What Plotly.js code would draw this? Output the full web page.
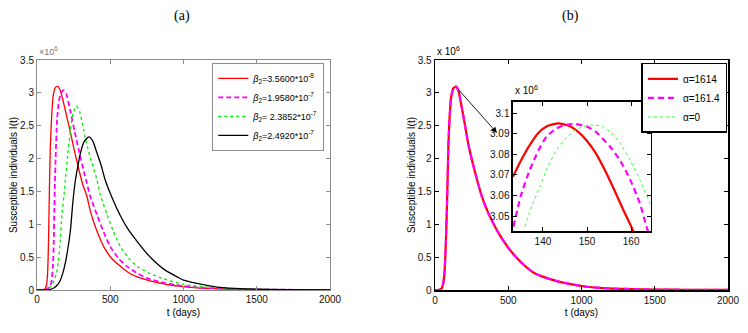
<!DOCTYPE html>
<html>
<head>
<meta charset="utf-8">
<script src="https://cdn.plot.ly/plotly-3.0.1.min.js"></script>
<style>
html, body { margin: 0; padding: 0; background: #fff; }
#plot { width: 748px; height: 333px; }
</style>
</head>
<body>
<div id="plot"></div>
<script>
// panel (a): I(t) for four beta2 values, values in units of 1e6
var tRed = [0, 40, 55, 65, 72, 78, 82, 86, 91, 100, 110, 125, 143, 160, 180, 205, 228, 255, 284, 310, 341, 364, 400, 455, 510, 569, 620, 683, 771, 850, 910, 1000, 1092, 1200, 1350, 1500, 1700, 2000];
var vRed = [0, 0.003, 0.02, 0.08, 0.25, 0.7, 1.2, 1.7, 2.18, 2.65, 2.95, 3.08, 3.10, 3.03, 2.86, 2.62, 2.4, 2.12, 1.85, 1.62, 1.42, 1.2, 0.95, 0.66, 0.48, 0.36, 0.27, 0.2, 0.14, 0.1, 0.076, 0.052, 0.032, 0.02, 0.011, 0.006, 0.003, 0.001];

var tMag = [0, 60, 90, 100, 108, 114, 118, 122, 127, 137, 150, 165, 182, 200, 228, 256, 284, 320, 341, 364, 410, 455, 500, 560, 614, 680, 751, 850, 950, 1092, 1200, 1350, 1500, 1700, 2000];
var vMag = [0, 0.005, 0.06, 0.15, 0.35, 0.7, 1.2, 1.6, 2.0, 2.6, 2.88, 3.0, 3.04, 2.98, 2.72, 2.42, 2.14, 1.8, 1.62, 1.42, 1.14, 0.88, 0.66, 0.47, 0.36, 0.26, 0.18, 0.12, 0.075, 0.04, 0.026, 0.015, 0.008, 0.004, 0.001];

var tGrn = [0, 60, 91, 115, 132, 145, 155, 171, 187, 193, 205, 228, 245, 268, 290, 319, 345, 375, 410, 432, 478, 520, 569, 620, 683, 771, 865, 1000, 1092, 1200, 1350, 1500, 1700, 2000];
var vGrn = [0, 0.01, 0.05, 0.14, 0.25, 0.42, 0.66, 1.17, 1.5, 1.67, 1.95, 2.43, 2.68, 2.8, 2.72, 2.43, 2.17, 1.93, 1.67, 1.45, 1.15, 0.9, 0.66, 0.5, 0.36, 0.25, 0.17, 0.085, 0.06, 0.038, 0.02, 0.011, 0.005, 0.001];

var tBlk = [0, 80, 114, 140, 159, 175, 193, 210, 228, 246, 262, 280, 296, 320, 353, 380, 410, 440, 466, 519, 569, 620, 683, 740, 796, 870, 956, 1000, 1092, 1227, 1350, 1500, 1700, 2000];
var vBlk = [0, 0.005, 0.03, 0.08, 0.15, 0.25, 0.41, 0.62, 0.91, 1.37, 1.67, 1.9, 2.08, 2.25, 2.33, 2.27, 2.08, 1.88, 1.67, 1.37, 1.13, 0.93, 0.74, 0.58, 0.45, 0.31, 0.2, 0.15, 0.1, 0.045, 0.025, 0.012, 0.005, 0.001];

var namesA = ['<i>β</i><sub>2</sub>=3.5600*10<sup>-8</sup>', '<i>β</i><sub>2</sub>=1.9580*10<sup>-7</sup>',
              '<i>β</i><sub>2</sub>= 2.3852*10<sup>-7</sup>', '<i>β</i><sub>2</sub>=2.4920*10<sup>-7</sup>'];

// panel (b): the three alpha curves overlap on the full scale
var tAlpha = [0, 30, 46, 56, 64, 70, 75, 80, 86, 91, 100, 110, 125, 144, 160, 182, 205, 227, 255, 284, 320, 364, 430, 501, 592, 683, 808, 900, 1036, 1150, 1300, 1500, 1700, 2000];
var vAlpha = [0, 0.002, 0.03, 0.1, 0.25, 0.5, 0.8, 1.17, 1.7, 2.18, 2.65, 2.93, 3.07, 3.095, 3.03, 2.78, 2.5, 2.22, 1.95, 1.7, 1.42, 1.17, 0.88, 0.64, 0.41, 0.25, 0.15, 0.1, 0.05, 0.03, 0.016, 0.008, 0.004, 0.001];

// inset zoom around the peak
var tInR = [133.2, 135, 137, 139, 141, 143.5, 146, 148, 150, 152, 154, 156, 158, 160.2, 162];
var vInR = [3.0691, 3.077, 3.0845, 3.0905, 3.0938, 3.0951, 3.0938, 3.091, 3.0865, 3.0805, 3.0725, 3.0635, 3.054, 3.044, 3.035];
var tInM = [133.3, 135, 137, 139, 140.8, 143, 145, 147.3, 150, 152, 155.2, 157.5, 159.8, 162, 163.6, 164.5];
var vInM = [3.0448, 3.06, 3.0724, 3.082, 3.0886, 3.0925, 3.0943, 3.0948, 3.0935, 3.091, 3.0838, 3.077, 3.0676, 3.056, 3.044, 3.038];
var tInG = [135.9, 137.5, 139.3, 141, 143.1, 145, 147, 149, 151.4, 153.5, 155.5, 157.5, 159.8, 162, 164.3, 164.5];
var vInG = [3.0448, 3.055, 3.0643, 3.0735, 3.0821, 3.0875, 3.0912, 3.0935, 3.0943, 3.0935, 3.0905, 3.0854, 3.077, 3.0676, 3.056, 3.055];

var namesB = ['α=1614', 'α=161.4', 'α=0'];

var yTicks = [0, 0.5, 1, 1.5, 2, 2.5, 3, 3.5];
var yTickText = ['0', '0.5', '1', '1.5', '2', '2.5', '3', '3.5'];
var xTicks = [0, 500, 1000, 1500, 2000];
var inYTicks = [3.05, 3.06, 3.07, 3.08, 3.09, 3.1];
var inYText = ['3.05', '3.06', '3.07', '3.08', '3.09', '3.1'];
var inXTicks = [140, 150, 160];

function line(x, y, name, color, width, dash, xa, ya, leg, show) {
    return {x: x, y: y, name: name, type: 'scatter', mode: 'lines',
            line: {color: color, width: width, dash: dash, shape: 'spline', smoothing: 0.6},
            xaxis: xa, yaxis: ya, legend: leg, showlegend: show};
}

var data = [
    line(tRed, vRed, namesA[0], '#ff0000', 1.3, 'solid', 'x', 'y', 'legend', true),
    line(tMag, vMag, namesA[1], '#ff00ff', 1.8, '5px,3px', 'x', 'y', 'legend', true),
    line(tGrn, vGrn, namesA[2], '#00ee00', 1.3, 'dot', 'x', 'y', 'legend', true),
    line(tBlk, vBlk, namesA[3], '#000000', 1.3, 'solid', 'x', 'y', 'legend', true),

    line(tAlpha, vAlpha, namesB[2], '#33ff33', 1, 'dot', 'x2', 'y2', 'legend2', false),
    line(tAlpha, vAlpha, namesB[0], '#ff0000', 2.2, 'solid', 'x2', 'y2', 'legend2', true),
    line(tAlpha, vAlpha, namesB[1], '#ff00ff', 2.2, '6px,4px', 'x2', 'y2', 'legend2', true),
    line(tInR, vInR, namesB[0], '#ff0000', 2.2, 'solid', 'x3', 'y3', 'legend2', false),
    line(tInM, vInM, namesB[1], '#ff00ff', 2.2, '6px,4px', 'x3', 'y3', 'legend2', false),
    line(tInG, vInG, namesB[2], '#33ff33', 1, 'dot', 'x3', 'y3', 'legend2', true)
];

var font = 'Liberation Sans, Arial, sans-serif';

function axis(dom, range, color, lw, extra) {
    var a = {domain: dom, range: range, showgrid: false, zeroline: false,
             showline: true, linecolor: color, linewidth: lw, mirror: 'ticks',
             ticks: 'inside', ticklen: 4, tickcolor: color, tickwidth: 1,
             tickfont: {family: font, size: 10, color: '#111'}, automargin: false};
    for (var k in extra) a[k] = extra[k];
    return a;
}

var layout = {
    width: 748, height: 333,
    margin: {l: 0, r: 0, t: 0, b: 0},
    paper_bgcolor: '#fff', plot_bgcolor: 'rgba(0,0,0,0)',
    font: {family: font, size: 10, color: '#000'},
    xaxis: axis([0.0495, 0.4412], [0, 2000], '#8c8c8c', 1,
        {anchor: 'y', tickvals: xTicks, title: {text: 't (days)', standoff: 4, font: {size: 10}}}),
    yaxis: axis([0.1291, 0.8198], [0, 3.5], '#8c8c8c', 1,
        {anchor: 'x', tickvals: yTicks, ticktext: yTickText, title: {text: 'Susceptible individuals I(t)', standoff: 0, font: {size: 10}}}),
    xaxis2: axis([0.5816, 0.9733], [0, 2000], '#000', 1.5,
        {anchor: 'y2', tickvals: xTicks, title: {text: 't (days)', standoff: 4, font: {size: 10}}}),
    yaxis2: axis([0.1291, 0.8198], [0, 3.5], '#000', 1.5,
        {anchor: 'x2', tickvals: yTicks, ticktext: yTickText, title: {text: 'Susceptible individuals I(t)', standoff: 0, font: {size: 10}}}),
    xaxis3: axis([0.6858, 0.8703], [133.2, 164.5], '#000', 1.5,
        {anchor: 'y3', tickvals: inXTicks}),
    yaxis3: axis([0.3063, 0.6937], [3.0427, 3.1055], '#000', 1.5,
        {anchor: 'x3', tickvals: inYTicks, ticktext: inYText}),
    legend: {x: 0.4335, y: 0.811, xanchor: 'right', yanchor: 'top',
             bgcolor: '#fff', bordercolor: '#8c8c8c', borderwidth: 1,
             font: {family: 'Liberation Sans Narrow, Arial Narrow, ' + font, size: 9}, tracegroupgap: 0},
    legend2: {x: 0.9725, y: 0.811, xanchor: 'right', yanchor: 'top',
              bgcolor: '#fff', bordercolor: '#000', borderwidth: 1.5,
              font: {family: font, size: 10}, tracegroupgap: 0, traceorder: 'normal'},
    annotations: [
        {text: '(a)', xref: 'paper', yref: 'paper', x: 0.23, y: 0.952, yanchor: 'middle', showarrow: false,
         font: {family: 'Liberation Serif, Times New Roman, serif', size: 14}},
        {text: '(b)', xref: 'paper', yref: 'paper', x: 0.777, y: 0.952, yanchor: 'middle', showarrow: false,
         font: {family: 'Liberation Serif, Times New Roman, serif', size: 14}},
        {text: '×10<sup>6</sup>', xref: 'paper', yref: 'paper', x: 0.0495, y: 0.823, xanchor: 'left', yanchor: 'bottom',
         showarrow: false, font: {size: 9, color: '#777'}},
        {text: 'x 10<sup>6</sup>', xref: 'paper', yref: 'paper', x: 0.5816, y: 0.823, xanchor: 'left', yanchor: 'bottom',
         showarrow: false, font: {size: 10, color: '#000'}},
        {text: 'x 10<sup>6</sup>', xref: 'paper', yref: 'paper', x: 0.6858, y: 0.705, xanchor: 'left', yanchor: 'bottom',
         showarrow: false, font: {size: 10, color: '#000'}},
        {x: 423, y: 2.39, xref: 'x2', yref: 'y2', ax: 150, ay: 3.075, axref: 'x2', ayref: 'y2',
         text: '', showarrow: true, arrowhead: 2, arrowsize: 1.3, arrowwidth: 0.9, arrowcolor: '#000'}
    ]
};

Plotly.newPlot('plot', data, layout, {staticPlot: true});
</script>
</body>
</html>
